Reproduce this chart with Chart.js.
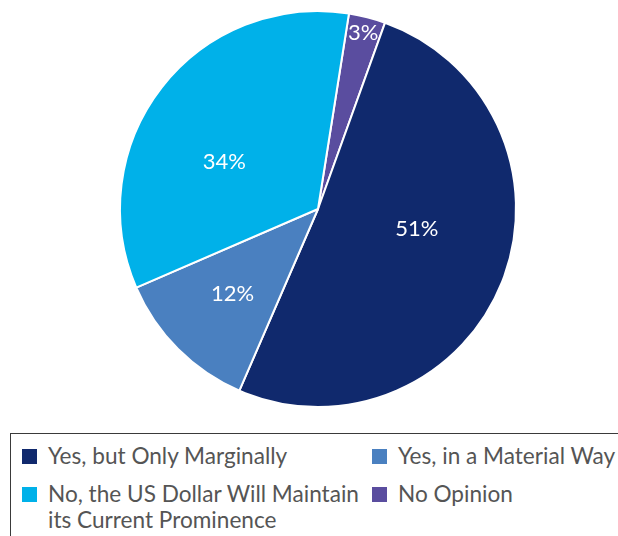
<!DOCTYPE html>
<html>
<head>
<meta charset="utf-8">
<script src="https://cdn.jsdelivr.net/npm/chart.js@4/dist/chart.umd.min.js"></script>
<style>
  html, body { margin: 0; padding: 0; background: #fff; overflow: hidden; }
  body { width: 618px; height: 536px; position: relative; font-family: Lato, "Open Sans", sans-serif; }
  #wrap { position: absolute; left: 0; top: 0; width: 618px; height: 420px; }
  #legend {
    position: absolute; left: 10px; top: 433px; width: 640px; height: 140px;
    border: 1px solid #3a3a3a; box-sizing: border-box;
  }
  .item { position: absolute; display: flex; align-items: flex-start; color: #555; font-size: 22.6px; line-height: 26px; white-space: nowrap; }
  .sw { width: 15px; height: 15px; margin-top: 6px; margin-right: 11px; flex: none; }
</style>
</head>
<body>
<div id="wrap"><canvas id="c"></canvas></div>
<div id="legend"></div>
<script>
// Survey answer shares, in drawing order (clockwise from the top)
const categories = [
  "No Opinion",
  "Yes, but Only Marginally",
  "Yes, in a Material Way",
  "No, the US Dollar Will Maintain its Current Prominence"
];
const shares = [3, 51, 12, 34];
const colors = ["#5a4d9f", "#10296d", "#4a80c0", "#00b1e9"];

// Legend order and the way the long label wraps
const legendOrder = [1, 2, 3, 0];
const legendText = [
  "No Opinion",
  "Yes, but Only Marginally",
  "Yes, in a Material Way",
  "No, the US Dollar Will Maintain<br>its Current Prominence"
];

// Where each percentage sits inside its slice: fraction of radius, angle shift (deg)
const labelSpots = [
  { r: 0.92, da: 0 },
  { r: 0.51, da: -10 },
  { r: 0.61, da: 0 },
  { r: 0.53, da: -11 }
];

const sliceLabels = {
  id: "sliceLabels",
  afterDatasetsDraw(chart) {
    const ctx = chart.ctx;
    const arcs = chart.getDatasetMeta(0).data;
    ctx.save();
    ctx.fillStyle = "#ffffff";
    ctx.font = "22px Lato, 'Open Sans', sans-serif";
    ctx.textAlign = "center";
    ctx.textBaseline = "middle";
    arcs.forEach((arc, i) => {
      const spot = labelSpots[i];
      const mid = (arc.startAngle + arc.endAngle) / 2 + spot.da * Math.PI / 180;
      const rr = arc.outerRadius * spot.r;
      ctx.fillText(shares[i] + "%", arc.x + Math.cos(mid) * rr, arc.y + Math.sin(mid) * rr);
    });
    ctx.restore();
  }
};

new Chart(document.getElementById("c"), {
  type: "pie",
  data: {
    labels: categories,
    datasets: [{
      data: shares,
      backgroundColor: colors,
      borderColor: "#ffffff",
      borderWidth: 2,
      hoverOffset: 0
    }]
  },
  options: {
    responsive: true,
    maintainAspectRatio: false,
    animation: false,
    rotation: 9,
    layout: { padding: { top: 10, bottom: 12, left: 18, right: 0 } },
    plugins: {
      legend: { display: false },
      tooltip: { enabled: false }
    }
  },
  plugins: [sliceLabels]
});

// Two-column legend below the pie
const legend = document.getElementById("legend");
const spots = [[11, 9], [361, 9], [11, 47], [361, 47]];
legendOrder.forEach((idx, k) => {
  const el = document.createElement("div");
  el.className = "item";
  el.style.left = spots[k][0] + "px";
  el.style.top = spots[k][1] + "px";
  el.innerHTML = '<span class="sw" style="background:' + colors[idx] + '"></span><span>' + legendText[idx] + "</span>";
  legend.appendChild(el);
});
</script>
</body>
</html>
